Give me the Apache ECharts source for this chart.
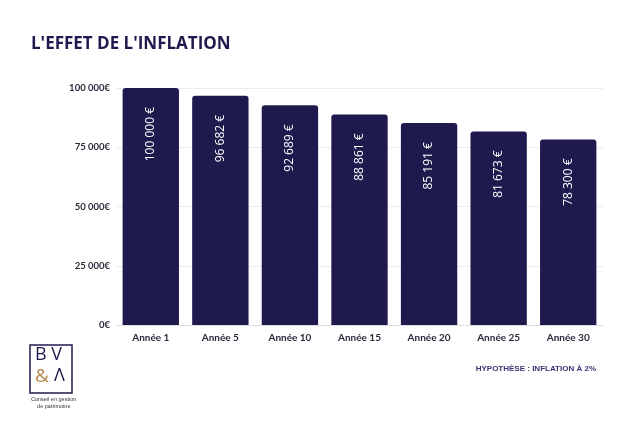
<!DOCTYPE html>
<html><head><meta charset="utf-8">
<script src="https://cdn.jsdelivr.net/npm/echarts@6/dist/echarts.min.js"></script>
<style>html,body{margin:0;padding:0;background:#fff}#c{width:640px;height:427px}</style>
</head><body><div id="c"></div>
<script>
const categories = ['Année 1','Année 5','Année 10','Année 15','Année 20','Année 25','Année 30'];
const values = [100000, 96682, 92689, 88861, 85191, 81673, 78300];
const yTicks = [0, 25000, 50000, 75000, 100000];
const navy = '#1f1a4e';
function fmt(v){ return String(v).replace(/\B(?=(\d{3})+(?!\d))/g,' '); }
const chart = echarts.init(document.getElementById('c'));
chart.setOption({
  animation:false,
  textStyle:{fontFamily:'Lato, "Open Sans", sans-serif'},
  title:{text:"L'EFFET DE L'INFLATION", left:26, top:31,
    textStyle:{fontSize:17, fontWeight:'bold', color:navy, fontFamily:'"Open Sans", Lato, sans-serif'}},
  grid:{left:116, right:37, top:88, bottom:102},
  xAxis:{type:'category', data:categories,
    axisLine:{lineStyle:{color:'#dddde3', width:1}}, axisTick:{show:false},
    axisLabel:{color:'#2a2a3a', fontSize:10, fontWeight:'bold', margin:8}},
  yAxis:{type:'value', min:0, max:100000, interval:25000,
    axisLabel:{color:'#2a2a3a', fontSize:9.5, fontWeight:'bold', margin:6,
      formatter:v=>fmt(v)+'€'},
    splitLine:{lineStyle:{color:'#ececf0'}}},
  series:[{type:'bar', data:values, barWidth:'81%',
    itemStyle:{color:navy, borderRadius:[3,3,0,0]},
    label:{show:true, position:'insideTop', rotate:90, distance:19, align:'right', verticalAlign:'middle',
      color:'#fff', fontSize:12, fontFamily:'"Open Sans", sans-serif', formatter:p=>fmt(p.value)+' €'}}],
  graphic:[
    {type:'rect', shape:{x:30,y:345,width:42,height:48}, style:{fill:'none', stroke:navy, lineWidth:1.5}},
    {type:'text', left:35, top:346, style:{text:'B V', fontSize:18, fill:navy, fontFamily:'"Open Sans", sans-serif'}},
    {type:'text', left:35, top:367, style:{text:'&', fontSize:19, fill:'#b9874e', fontFamily:'"Open Sans", sans-serif'}},
    {type:'text', left:54, top:367, style:{text:'Λ', fontSize:18, fill:navy, fontFamily:'"Open Sans", sans-serif'}},
    {type:'text', left:31, top:396, style:{text:'Conseil en gestion\n    de patrimoine', fontSize:5.5, lineHeight:7, fill:'#333', align:'left'}},
    {type:'text', right:44, top:365, style:{text:'HYPOTHÈSE : INFLATION À 2%', fontSize:8, fontWeight:'bold', fill:'#3a3570'}}
  ]
});
</script></body></html>
